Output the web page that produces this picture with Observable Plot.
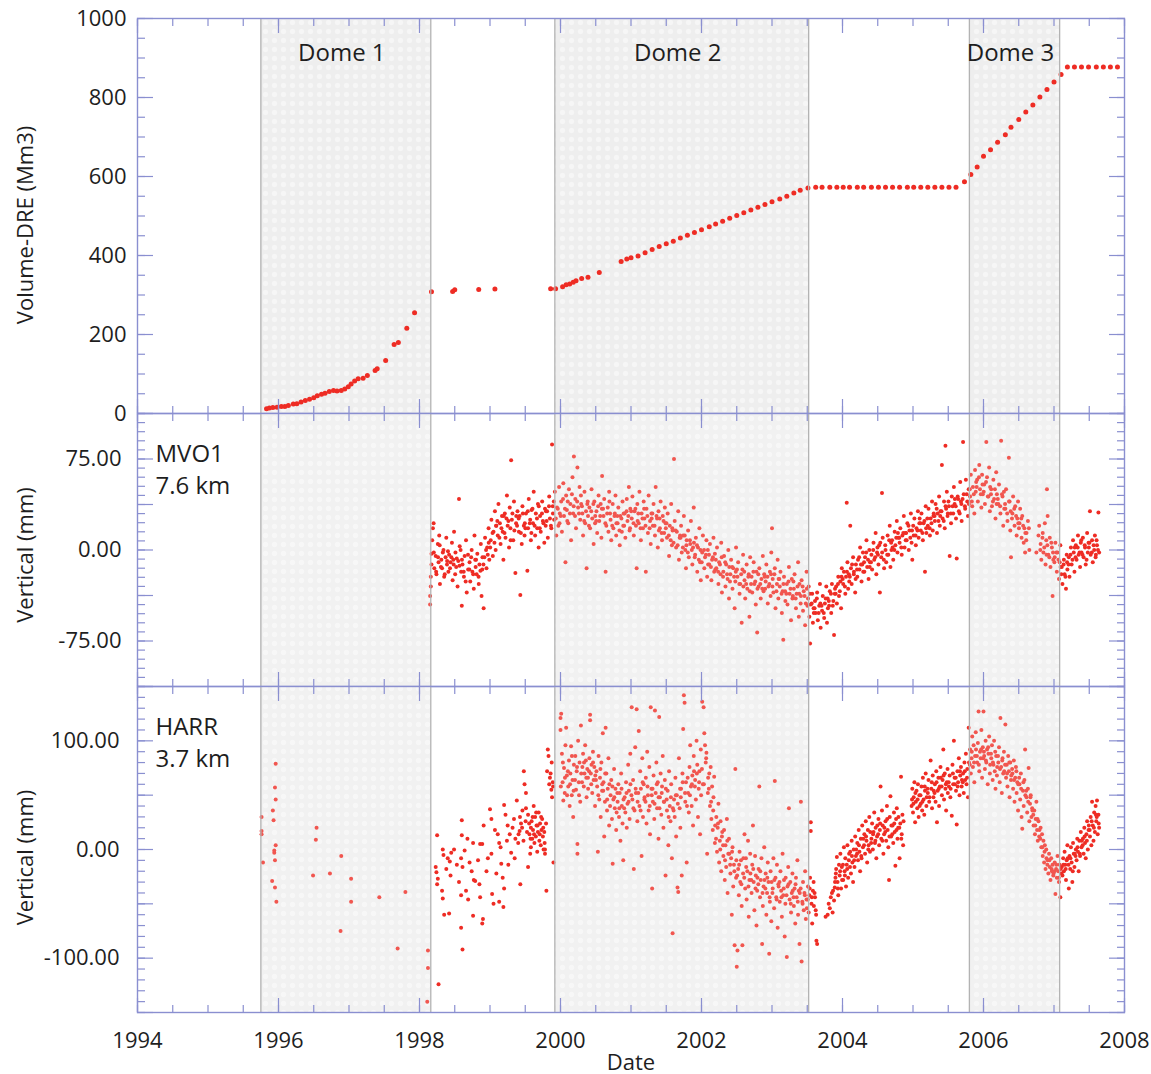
<!DOCTYPE html>
<html>
<head>
<meta charset="utf-8">
<script src="https://cdn.jsdelivr.net/npm/d3@7"></script>
<script src="https://cdn.jsdelivr.net/npm/@observablehq/plot@0.6"></script>
<style>
  body { margin: 0; background: #ffffff; }
  #chart { position: relative; width: 1151px; height: 1074px; }
</style>
</head>
<body>
<div id="chart"></div>
<script>
// ---------------- DATA ----------------
const domeNames = ["Dome 1", "Dome 2", "Dome 3"];
const domeStart = [1995.75, 1999.92, 2005.80];
const domeEnd   = [1998.16, 2003.52, 2007.08];

const yearTicks   = [1994, 1996, 1998, 2000, 2002, 2004, 2006, 2008];
const volumeTicks = [0, 200, 400, 600, 800, 1000];
const mvo1Ticks   = [-75, 0, 75];
const harrTicks   = [-100, 0, 100];

// cumulative extruded volume (dense rock equivalent, Mm3)
const volume = [
[1995.83,12],[1995.87,14],[1995.92,15],[1995.98,16],[1996.04,18],[1996.09,18],[1996.14,20],[1996.21,24],[1996.26,25],[1996.32,29],
[1996.38,33],[1996.44,36],[1996.50,40],[1996.55,45],[1996.61,49],[1996.66,51],[1996.72,56],[1996.78,58],[1996.83,57],[1996.89,58],
[1996.94,62],[1996.99,68],[1997.03,75],[1997.08,82],[1997.13,88],[1997.20,89],[1997.26,96],[1997.37,109],[1997.40,113],[1997.52,134],
[1997.64,175],[1997.70,180],[1997.82,216],[1997.93,255],[1998.17,308],[1998.47,309],[1998.50,313],[1998.84,314],[1999.07,315],
[1999.86,316],[1999.93,316],[2000.03,321],[2000.08,326],[2000.13,328],[2000.18,332],[2000.22,336],[2000.30,342],[2000.39,345],[2000.55,357],
[2000.86,385],[2000.94,391],[2001.00,394],[2001.10,399],[2001.20,407],[2001.30,415],[2001.40,423],[2001.50,430],[2001.60,436],[2001.70,444],
[2001.80,451],[2001.90,458],[2002.00,465],[2002.11,473],[2002.20,480],[2002.30,487],[2002.40,494],[2002.50,501],[2002.60,508],[2002.70,515],
[2002.80,522],[2002.90,529],[2003.00,536],[2003.11,543],[2003.21,550],[2003.31,558],[2003.40,565],[2003.51,571],
[2003.62,573],[2003.71,573],[2003.82,573],[2003.92,573],[2004.01,573],[2004.10,573],[2004.21,573],[2004.30,573],[2004.41,573],[2004.51,573],
[2004.61,573],[2004.71,573],[2004.81,573],[2004.92,573],[2005.01,573],[2005.11,573],[2005.21,573],[2005.31,573],[2005.41,573],[2005.51,573],[2005.61,573],
[2005.73,587],[2005.82,605],[2005.91,624],[2006.00,651],[2006.10,668],[2006.20,687],[2006.31,706],[2006.39,725],[2006.50,744],[2006.60,763],
[2006.70,781],[2006.80,801],[2006.90,820],[2007.00,839],[2007.10,858],
[2007.19,877],[2007.29,877],[2007.39,877],[2007.49,877],[2007.60,877],[2007.70,877],[2007.80,877],[2007.90,877]
];

// MVO1 GPS vertical displacement (mm)
const mvo1 = [
[1998.15,-45],[1998.15,-38],[1998.16,-30],[1998.16,-22],[1998.17,-12],[1998.17,-3],[1998.18,8],[1998.19,18],[1998.20,22],
[1998.21,-15],[1998.23,-5],[1998.24,-20],[1998.26,5],[1998.27,-10],[1998.28,12],[1998.29,-28],
[1998.31,-8],[1998.32,-15],[1998.34,0],[1998.35,-22],[1998.37,-6],[1998.38,10],[1998.39,-12],
[1998.41,-18],[1998.42,-4],[1998.44,-10],[1998.46,6],[1998.47,-25],[1998.48,-8],[1998.49,15],
[1998.51,-2],[1998.52,-14],[1998.54,-30],[1998.55,-9],[1998.56,42],[1998.57,3],[1998.59,-18],
[1998.60,-46],[1998.61,-12],[1998.63,-22],[1998.64,-5],[1998.66,8],[1998.67,-35],[1998.69,-16],
[1998.71,-10],[1998.72,-26],[1998.74,0],[1998.75,-18],[1998.77,-32],[1998.78,12],[1998.79,-8],
[1998.81,-20],[1998.82,-3],[1998.84,-28],[1998.85,-12],[1998.87,5],[1998.88,-38],[1998.89,-16],
[1998.91,-48],[1998.92,-6],[1998.93,10],[1998.95,-15],[1998.96,2],[1998.98,18],[1998.99,-8],
[1999.01,8],[1999.02,25],[1999.04,-5],[1999.05,15],[1999.07,32],[1999.08,0],[1999.09,20],
[1999.11,12],[1999.12,38],[1999.14,22],[1999.15,5],[1999.17,28],[1999.18,15],[1999.19,-8],
[1999.21,30],[1999.22,10],[1999.24,45],[1999.25,20],[1999.27,2],[1999.28,35],[1999.29,18],
[1999.30,74],[1999.31,25],[1999.33,8],[1999.34,40],[1999.36,-19],[1999.37,22],[1999.39,32],
[1999.41,15],[1999.42,28],[1999.43,-37],[1999.45,5],[1999.46,36],[1999.48,20],[1999.49,12],
[1999.51,30],[1999.53,-17],[1999.54,18],[1999.55,42],[1999.57,25],[1999.58,8],[1999.59,33],
[1999.61,22],[1999.62,48],[1999.64,12],[1999.65,30],[1999.67,18],[1999.68,38],[1999.69,2],
[1999.71,28],[1999.72,15],[1999.74,40],[1999.75,24],[1999.77,6],[1999.78,34],[1999.79,20],
[1999.81,32],[1999.82,10],[1999.84,44],[1999.85,26],[1999.87,18],[1999.88,87],[1999.89,36],
[1999.91,25],[1999.92,48],[1999.94,12],[1999.95,35],[1999.97,20],[1999.98,52],[1999.99,30],
[2000.01,40],[2000.02,15],[2000.04,55],[2000.05,28],[2000.07,-10],[2000.08,45],[2000.09,33],
[2000.11,22],[2000.12,50],[2000.14,38],[2000.15,8],[2000.17,60],[2000.18,30],[2000.19,77],
[2000.21,42],[2000.22,18],[2000.24,68],[2000.25,35],[2000.27,52],[2000.28,25],[2000.29,45],
[2000.31,30],[2000.32,12],[2000.34,48],[2000.35,22],[2000.37,-15],[2000.38,38],[2000.39,28],
[2000.41,35],[2000.42,18],[2000.44,50],[2000.45,26],[2000.47,5],[2000.48,40],[2000.49,22],
[2000.51,32],[2000.52,14],[2000.54,45],[2000.55,24],[2000.57,38],[2000.58,10],[2000.59,61],
[2000.61,28],[2000.62,42],[2000.64,-18],[2000.65,20],[2000.67,35],[2000.68,15],[2000.69,48],
[2000.71,25],[2000.72,8],[2000.74,38],[2000.75,18],[2000.77,30],[2000.78,45],[2000.79,12],
[2000.81,22],[2000.82,35],[2000.84,4],[2000.85,28],[2000.87,15],[2000.88,40],[2000.89,20],
[2000.91,30],[2000.92,10],[2000.94,42],[2000.95,24],[2000.97,52],[2000.98,16],[2000.99,34],
[2001.01,26],[2001.02,44],[2001.04,12],[2001.05,32],[2001.07,20],[2001.08,-15],[2001.09,38],
[2001.11,22],[2001.12,48],[2001.14,8],[2001.15,30],[2001.17,18],[2001.18,40],[2001.19,26],
[2001.21,-18],[2001.22,34],[2001.24,14],[2001.25,45],[2001.27,24],[2001.28,5],[2001.29,30],
[2001.31,20],[2001.32,38],[2001.34,12],[2001.35,52],[2001.37,26],[2001.38,2],[2001.39,32],
[2001.41,18],[2001.42,40],[2001.44,8],[2001.45,28],[2001.47,14],[2001.48,35],[2001.49,22],
[2001.51,10],[2001.52,30],[2001.54,-5],[2001.55,20],[2001.57,38],[2001.58,4],[2001.59,16],
[2001.61,75],[2001.62,24],[2001.64,2],[2001.65,15],[2001.67,32],[2001.68,-8],[2001.69,10],
[2001.71,20],[2001.72,-2],[2001.74,12],[2001.75,28],[2001.77,0],[2001.78,-15],[2001.79,8],
[2001.81,16],[2001.82,-6],[2001.84,5],[2001.85,24],[2001.87,-12],[2001.88,2],[2001.89,35],
[2001.91,-4],[2001.92,10],[2001.94,-18],[2001.95,2],[2001.97,18],[2001.98,-10],[2001.99,-25],
[2002.01,-2],[2002.02,12],[2002.04,-15],[2002.05,-6],[2002.07,8],[2002.08,-22],[2002.09,0],
[2002.11,-12],[2002.12,5],[2002.14,-25],[2002.15,-8],[2002.17,10],[2002.18,-18],[2002.19,-3],
[2002.21,-15],[2002.22,2],[2002.24,-28],[2002.25,-10],[2002.27,-20],[2002.28,6],[2002.29,-35],
[2002.31,-18],[2002.32,-5],[2002.34,-30],[2002.35,-12],[2002.37,-24],[2002.38,0],[2002.39,-40],
[2002.41,-20],[2002.42,-8],[2002.44,-32],[2002.45,-15],[2002.47,-48],[2002.48,-26],[2002.49,2],
[2002.51,-22],[2002.52,-10],[2002.54,-36],[2002.55,-28],[2002.57,-60],[2002.58,-16],[2002.59,-4],
[2002.61,-25],[2002.62,-40],[2002.64,-12],[2002.65,-32],[2002.67,-20],[2002.68,-55],[2002.69,-6],
[2002.71,-22],[2002.72,-35],[2002.74,-10],[2002.75,-28],[2002.77,-45],[2002.78,-18],[2002.79,-68],
[2002.81,-30],[2002.82,-15],[2002.84,-40],[2002.85,-24],[2002.87,-5],[2002.88,-34],[2002.89,-20],
[2002.91,-26],[2002.92,-12],[2002.94,-44],[2002.95,-30],[2002.97,-18],[2002.98,-38],[2002.99,-2],
[2003.00,18],[2003.01,-24],[2003.02,-35],[2003.04,-15],[2003.05,-48],[2003.07,-28],[2003.08,-8],[2003.09,-40],
[2003.11,-30],[2003.12,-18],[2003.14,-52],[2003.15,-34],[2003.16,-74],[2003.17,-22],[2003.19,-42],
[2003.21,-28],[2003.22,-45],[2003.24,-14],[2003.25,-36],[2003.27,-58],[2003.28,-24],[2003.29,-40],
[2003.31,-32],[2003.32,-20],[2003.34,-48],[2003.35,-36],[2003.37,-10],[2003.38,-55],[2003.39,-28],
[2003.41,-38],[2003.42,-25],[2003.44,-50],[2003.45,-34],[2003.47,-62],[2003.48,-44],[2003.49,-18],
[2003.51,-40],[2003.52,-30],[2003.53,-55],[2003.54,-77],[2003.55,-45],[2003.57,-36],[2003.58,-60],[2003.59,-48],
[2003.61,-42],[2003.62,-52],[2003.64,-35],[2003.65,-58],[2003.67,-46],[2003.68,-28],[2003.69,-64],
[2003.71,-50],[2003.72,-38],[2003.74,-56],[2003.75,-44],[2003.77,-30],[2003.78,-60],[2003.79,-40],
[2003.81,-46],[2003.82,-34],[2003.84,-52],[2003.85,-28],[2003.87,-42],[2003.88,-70],[2003.89,-36],
[2003.91,-30],[2003.92,-44],[2003.94,-22],[2003.95,-38],[2003.97,-26],[2003.98,-48],[2003.99,-15],
[2004.01,-28],[2004.02,-18],[2004.04,-36],[2004.05,-22],[2004.06,39],[2004.07,-10],[2004.08,-32],[2004.09,-20],
[2004.11,20],[2004.12,-15],[2004.13,-28],[2004.15,-6],[2004.16,-20],[2004.18,-35],[2004.19,-12],
[2004.21,-22],[2004.22,-8],[2004.24,-16],[2004.25,2],[2004.27,-26],[2004.28,-12],[2004.29,-2],
[2004.31,-18],[2004.32,-6],[2004.34,8],[2004.35,-14],[2004.37,-24],[2004.38,0],[2004.39,-10],
[2004.41,-4],[2004.42,-16],[2004.44,6],[2004.45,-8],[2004.47,14],[2004.48,-20],[2004.49,-2],
[2004.51,-12],[2004.52,4],[2004.53,-35],[2004.55,-6],[2004.56,47],[2004.57,10],[2004.59,-15],
[2004.61,0],[2004.62,-10],[2004.64,12],[2004.65,-4],[2004.67,20],[2004.68,-14],[2004.69,6],
[2004.71,2],[2004.72,-8],[2004.74,15],[2004.75,4],[2004.77,24],[2004.78,-2],[2004.79,10],
[2004.81,6],[2004.82,18],[2004.84,-4],[2004.85,12],[2004.87,28],[2004.88,2],[2004.89,14],
[2004.91,8],[2004.92,22],[2004.94,0],[2004.95,16],[2004.97,30],[2004.98,6],[2004.99,-8],
[2005.01,12],[2005.02,26],[2005.04,4],[2005.05,18],[2005.07,32],[2005.08,10],[2005.09,22],
[2005.11,16],[2005.12,30],[2005.14,8],[2005.15,22],[2005.17,-18],[2005.18,36],[2005.19,14],
[2005.21,20],[2005.22,34],[2005.24,12],[2005.25,26],[2005.27,40],[2005.28,16],[2005.29,28],
[2005.31,24],[2005.32,38],[2005.34,14],[2005.35,30],[2005.37,44],[2005.38,20],[2005.39,32],
[2005.41,70],[2005.42,26],[2005.44,40],[2005.45,18],[2005.46,86],[2005.47,34],[2005.48,48],[2005.49,28],
[2005.51,36],[2005.52,-5],[2005.54,22],[2005.55,44],[2005.57,30],[2005.58,52],[2005.59,38],
[2005.61,26],[2005.62,-7],[2005.64,42],[2005.65,32],[2005.67,56],[2005.68,40],[2005.69,24],
[2005.71,89],[2005.72,46],[2005.74,34],[2005.75,58],[2005.77,40],[2005.78,28],[2005.79,50],
[2005.81,44],[2005.82,62],[2005.84,36],[2005.85,52],[2005.87,30],[2005.88,66],[2005.89,48],
[2005.91,58],[2005.92,40],[2005.94,70],[2005.95,50],[2005.97,35],[2005.98,62],[2005.99,46],
[2006.01,54],[2006.02,38],[2006.04,89],[2006.05,60],[2006.07,44],[2006.08,68],[2006.09,32],
[2006.11,50],[2006.12,36],[2006.14,58],[2006.15,42],[2006.17,26],[2006.18,64],[2006.19,46],
[2006.21,38],[2006.22,54],[2006.24,30],[2006.25,90],[2006.27,44],[2006.28,20],[2006.29,48],
[2006.31,34],[2006.32,50],[2006.34,24],[2006.36,76],[2006.37,40],[2006.38,16],[2006.39,-6],
[2006.41,30],[2006.42,44],[2006.44,20],[2006.45,36],[2006.47,12],[2006.48,26],[2006.49,40],
[2006.51,22],[2006.52,34],[2006.54,10],[2006.55,28],[2006.57,6],[2006.58,18],[2006.59,-2],
[2006.61,14],[2006.63,24],[2006.65,0],[2006.75,-2],[2006.78,12],[2006.79,20],
[2006.81,5],[2006.82,-8],[2006.84,14],[2006.85,-2],[2006.87,22],[2006.88,-12],[2006.89,8],
[2006.90,50],[2006.91,28],[2006.92,-4],[2006.94,10],[2006.95,-14],[2006.97,2],[2006.98,-38],[2006.99,-8],
[2007.01,-6],[2007.02,6],[2007.04,-18],[2007.05,-2],[2007.07,-24],[2007.08,-10],[2007.09,4],
[2007.11,-14],[2007.12,-28],[2007.14,-8],[2007.15,-20],[2007.17,-32],[2007.18,-4],[2007.19,-16],
[2007.21,-6],[2007.22,-22],[2007.24,2],[2007.25,-12],[2007.27,8],[2007.28,-2],[2007.29,-18],
[2007.31,4],[2007.32,-8],[2007.34,12],[2007.35,-4],[2007.37,-14],[2007.38,6],[2007.39,-2],
[2007.41,10],[2007.42,-6],[2007.44,2],[2007.45,-12],[2007.47,14],[2007.48,-2],[2007.49,6],
[2007.51,32],[2007.52,-4],[2007.54,8],[2007.55,-10],[2007.57,0],[2007.58,12],[2007.59,-6],
[2007.61,4],[2007.63,31],[2007.64,-2]
];

// MVO1: further readings from the dense core of the cloud
const mvo1Core = [
[1998.203,-2],[1998.236,-18],[1998.263,-6],[1998.286,4],[1998.304,-14],[1998.331,-2],[1998.358,-20],[1998.392,-9],
[1998.404,-1],[1998.433,-15],[1998.452,-6],[1998.484,-12],[1998.506,-20],[1998.528,-7],[1998.567,-13],[1998.583,0],
[1998.602,-8],[1998.627,-18],[1998.655,-26],[1998.688,-4],[1998.707,-16],[1998.733,-6],[1998.762,-20],[1998.796,-14],
[1998.802,-8],[1998.838,-22],[1998.864,-17],[1998.893,-6],[1998.907,-12],[1998.944,0],[1998.968,-4],[1998.982,6],
[1999.003,2],[1999.036,14],[1999.063,6],[1999.086,20],[1999.104,24],[1999.133,10],[1999.162,18],[1999.196,28],
[1999.206,14],[1999.234,26],[1999.261,24],[1999.293,8],[1999.318,30],[1999.346,16],[1999.372,28],[1999.384,20],
[1999.407,26],[1999.438,14],[1999.466,30],[1999.494,22],[1999.502,18],[1999.536,32],[1999.564,22],[1999.587,14],
[1999.603,34],[1999.633,20],[1999.666,26],[1999.692,36],[1999.706,18],[1999.737,30],[1999.758,22],[1999.794,32],
[1999.803,24],[1999.837,36],[1999.864,20],[1999.893,30],[1999.905,40],[1999.933,26],[1999.962,34],[1999.986,22],
[2000.003,28],[2000.036,42],[2000.063,34],[2000.096,24],[2000.103,40],[2000.134,30],[2000.162,46],[2000.187,36],
[2000.206,28],[2000.236,40],[2000.262,30],[2000.293,38],[2000.304,36],[2000.336,24],[2000.362,32],[2000.386,40],
[2000.403,20],[2000.436,32],[2000.466,38],[2000.493,28],[2000.506,24],[2000.534,36],[2000.563,28],[2000.586,34],
[2000.604,34],[2000.636,22],[2000.662,30],[2000.694,40],[2000.703,30],[2000.734,20],[2000.766,28],[2000.793,22],
[2000.806,28],[2000.836,16],[2000.864,26],[2000.896,30],[2000.903,20],[2000.937,32],[2000.962,28],[2000.986,18],
[2001.003,32],[2001.036,22],[2001.062,34],[2001.094,24],[2001.104,30],[2001.136,18],[2001.163,26],[2001.186,34],
[2001.206,20],[2001.232,28],[2001.264,18],[2001.293,26],[2001.303,30],[2001.334,20],[2001.362,28],[2001.396,16],
[2001.406,26],[2001.434,14],[2001.462,24],[2001.494,18],[2001.503,22],[2001.536,12],[2001.563,8],[2001.586,18],
[2001.604,6],[2001.634,16],[2001.662,4],[2001.696,12],[2001.703,10],[2001.736,2],[2001.762,12],[2001.786,4],
[2001.806,-2],[2001.836,8],[2001.862,0],[2001.893,6],[2001.904,-6],[2001.936,4],[2001.962,-8],[2001.986,0],
[2002.003,-10],[2002.036,0],[2002.062,-4],[2002.094,-12],[2002.106,-4],[2002.134,-14],[2002.162,-6],[2002.196,-16],
[2002.203,-8],[2002.236,-18],[2002.262,-12],[2002.286,-6],[2002.306,-22],[2002.336,-10],[2002.362,-20],[2002.394,-14],
[2002.404,-26],[2002.436,-14],[2002.462,-22],[2002.486,-18],[2002.503,-16],[2002.536,-28],[2002.562,-20],[2002.594,-30],
[2002.606,-18],[2002.634,-28],[2002.664,-22],[2002.686,-34],[2002.703,-28],[2002.736,-18],[2002.762,-26],[2002.794,-32],
[2002.806,-20],[2002.834,-28],[2002.862,-32],[2002.896,-22],[2002.903,-32],[2002.936,-22],[2002.962,-28],[2002.986,-20],
[2003.006,-30],[2003.034,-20],[2003.063,-34],[2003.094,-24],[2003.104,-24],[2003.136,-36],[2003.162,-28],[2003.186,-34],
[2003.203,-36],[2003.234,-26],[2003.262,-32],[2003.296,-38],[2003.304,-26],[2003.336,-40],[2003.362,-30],[2003.386,-36],
[2003.406,-44],[2003.434,-30],[2003.462,-38],[2003.494,-32],[2003.503,-46],[2003.536,-36],[2003.563,-44],[2003.593,-52],
[2003.604,-48],[2003.636,-40],[2003.662,-52],[2003.686,-44],[2003.703,-46],[2003.734,-52],[2003.762,-40],[2003.793,-48],
[2003.806,-42],[2003.836,-36],[2003.862,-46],[2003.894,-32],[2003.903,-36],[2003.936,-28],[2003.962,-34],[2003.986,-22],
[2004.003,-24],[2004.034,-30],[2004.063,-18],[2004.096,-26],[2004.104,-22],[2004.136,-12],[2004.162,-18],[2004.186,-24],
[2004.206,-16],[2004.236,-6],[2004.262,-12],[2004.294,-18],[2004.306,-10],[2004.336,-2],[2004.362,-8],[2004.386,-14],
[2004.404,-10],[2004.436,0],[2004.463,-6],[2004.496,2],[2004.503,-4],[2004.536,6],[2004.562,-2],[2004.586,-8],
[2004.606,4],[2004.634,-4],[2004.662,8],[2004.694,0],[2004.703,8],[2004.736,0],[2004.762,10],[2004.786,14],
[2004.806,10],[2004.834,2],[2004.862,14],[2004.896,8],[2004.903,14],[2004.936,20],[2004.962,10],[2004.986,16],
[2005.003,20],[2005.036,12],[2005.063,16],[2005.094,26],[2005.106,22],[2005.134,14],[2005.162,24],[2005.186,18],
[2005.203,26],[2005.236,18],[2005.262,22],[2005.294,30],[2005.306,28],[2005.336,34],[2005.362,24],[2005.386,28],
[2005.404,32],[2005.436,24],[2005.462,36],[2005.494,30],[2005.503,40],[2005.536,30],[2005.562,36],[2005.594,42],
[2005.606,36],[2005.634,44],[2005.662,30],[2005.686,38],[2005.703,42],[2005.736,36],[2005.762,46],[2005.794,38],
[2005.806,50],[2005.834,40],[2005.862,46],[2005.896,56],[2005.903,52],[2005.936,60],[2005.962,46],[2005.986,54],
[2006.003,48],[2006.036,56],[2006.062,44],[2006.094,52],[2006.106,46],[2006.134,40],[2006.162,50],[2006.186,38],
[2006.203,42],[2006.236,36],[2006.262,46],[2006.294,34],[2006.306,38],[2006.336,30],[2006.362,40],[2006.386,32],
[2006.404,26],[2006.436,34],[2006.462,28],[2006.494,22],[2006.503,18],[2006.536,26],[2006.562,20],[2006.594,14],
[2006.606,8],[2006.644,18],[2006.806,0],[2006.836,10],[2006.862,2],[2006.894,-4],[2006.906,4],[2006.934,-6],
[2006.962,6],[2006.986,-2],[2007.006,-10],[2007.034,-2],[2007.063,-8],[2007.094,-14],[2007.104,-20],[2007.136,-12],
[2007.162,-22],[2007.186,-10],[2007.206,-12],[2007.234,-4],[2007.262,-8],[2007.294,2],[2007.306,-6],[2007.336,2],
[2007.362,-2],[2007.386,8],[2007.404,-4],[2007.436,4],[2007.462,-8],[2007.494,2],[2007.503,6],[2007.536,-2],
[2007.562,4],[2007.594,-4],[2007.604,8],[2007.624,0]
];

// HARR GPS vertical displacement (mm)
const harr = [
[1995.76,30],[1995.76,17],[1995.76,14],[1995.78,-12],[1995.96,79],[1995.95,57],[1995.96,46],[1995.92,36],[1995.93,27],[1995.96,4],
[1995.94,-1],[1995.94,-3],[1995.95,-10],[1995.91,-29],[1995.95,-35],[1995.97,-48],[1996.54,20],[1996.53,9],[1996.49,-24],[1996.73,-22],
[1996.89,-6],[1997.03,-27],[1997.03,-48],[1996.88,-75],[1997.43,-44],[1997.80,-39],[1997.69,-91],[1998.12,-93],[1998.12,-109],[1998.11,-140],
[1998.27,-124],
[1998.25,13],[1998.23,-16],[1998.24,-21],[1998.26,-27],[1998.25,-32],[1998.33,0],[1998.34,-5],[1998.32,-38],[1998.33,-45],[1998.35,-60],
[1998.42,-59],[1998.45,-3],[1998.43,-11],[1998.44,-24],[1998.49,0],[1998.38,-18],[1998.40,-8],[1998.60,27],[1998.60,13],[1998.59,-8],
[1998.61,-16],[1998.64,-1],[1998.59,-42],[1998.59,-72],[1998.61,-92],[1998.66,-38],[1998.69,-46],[1998.76,6],[1998.77,-28],[1998.79,-29],
[1998.76,-61],[1998.83,-10],[1998.86,5],[1998.89,5],[1998.85,-32],[1998.86,-44],[1998.90,-64],[1998.89,-68],[1998.91,22],[1998.71,-12],
[1998.74,-20],[1998.53,-14],[1998.56,-30],[1998.68,10],[1998.95,-20],[1998.97,-8],[1999.00,37],[1999.02,28],[1999.02,-4],[1999.11,14],
[1999.13,6],[1999.16,-13],[1999.20,-36],[1999.03,-41],[1999.05,-50],[1999.13,-48],[1999.19,-53],[1999.20,41],[1999.22,32],[1999.25,22],
[1999.28,14],[1999.30,-3],[1999.07,18],[1999.09,-22],[1999.15,2],[1999.18,-26],[1999.24,8],[1999.26,-14],[1999.32,20],[1999.34,28],
[1999.35,-8],[1999.38,45],[1999.42,17],[1999.43,-32],[1999.40,6],[1999.36,10],[1999.44,24],[1999.46,36],[1999.48,72],[1999.49,60],
[1999.51,52],[1999.51,38],[1999.54,32],[1999.56,14],[1999.58,2],[1999.57,-4],[1999.58,20],[1999.62,40],[1999.60,10],[1999.54,-16],
[1999.59,26],[1999.61,18],[1999.63,6],[1999.64,30],[1999.65,12],[1999.66,22],[1999.67,-2],[1999.68,16],[1999.69,34],[1999.70,8],
[1999.71,24],[1999.72,4],[1999.73,18],[1999.74,28],[1999.75,12],[1999.76,0],[1999.77,16],[1999.78,0],[1999.78,-4],[1999.80,-38],
[1999.82,92],[1999.83,86],[1999.81,72],[1999.84,60],[1999.85,66],[1999.87,55],[1999.88,48],[1999.89,62],[1999.90,-12],
[2000.00,121],[2000.00,110],[2000.01,125],[2000.02,88],[2000.03,62],[2000.04,45],[2000.05,75],[2000.06,52],[2000.07,96],[2000.08,112],[2000.09,68],
[2000.11,58],[2000.12,82],[2000.13,40],[2000.14,70],[2000.15,95],[2000.16,50],[2000.17,64],[2000.18,30],[2000.19,78],
[2000.21,86],[2000.22,55],[2000.23,72],[2000.24,5],[2000.24,-4],[2000.25,100],[2000.26,62],[2000.27,80],[2000.28,44],[2000.29,114],
[2000.31,76],[2000.32,88],[2000.33,58],[2000.34,70],[2000.35,96],[2000.36,82],[2000.37,48],[2000.38,74],[2000.39,66],
[2000.41,84],[2000.42,124],[2000.42,119],[2000.43,70],[2000.44,78],[2000.45,52],[2000.46,90],[2000.47,64],[2000.48,76],[2000.49,40],
[2000.51,72],[2000.52,58],[2000.53,-2],[2000.54,86],[2000.55,46],[2000.56,66],[2000.57,30],[2000.58,80],[2000.59,54],
[2000.60,107],[2000.61,62],[2000.62,12],[2000.63,44],[2000.64,112],[2000.65,70],[2000.66,36],[2000.67,56],[2000.68,84],[2000.69,22],
[2000.71,50],[2000.72,64],[2000.73,28],[2000.74,-13],[2000.75,46],[2000.76,74],[2000.77,38],[2000.78,56],[2000.79,18],
[2000.81,44],[2000.82,60],[2000.83,30],[2000.84,52],[2000.85,8],[2000.86,70],[2000.87,40],[2000.88,24],[2000.89,-10],
[2000.91,48],[2000.92,34],[2000.93,62],[2000.94,20],[2000.95,42],[2000.96,78],[2000.97,54],[2000.98,28],[2000.99,88],
[2001.01,131],[2001.02,46],[2001.03,64],[2001.04,-18],[2001.05,36],[2001.06,94],[2001.07,52],[2001.08,129],[2001.09,26],
[2001.11,109],[2001.12,40],[2001.13,72],[2001.14,56],[2001.15,-6],[2001.16,84],[2001.17,30],[2001.18,60],[2001.19,46],
[2001.21,66],[2001.22,24],[2001.23,90],[2001.24,50],[2001.25,36],[2001.26,76],[2001.27,14],[2001.28,131],[2001.29,56],
[2001.30,-36],[2001.31,44],[2001.32,68],[2001.33,28],[2001.34,128],[2001.35,52],[2001.36,80],[2001.37,38],[2001.38,62],[2001.39,10],
[2001.40,122],[2001.41,48],[2001.42,70],[2001.43,32],[2001.44,58],[2001.45,86],[2001.46,20],[2001.47,44],[2001.48,64],[2001.49,-24],
[2001.51,36],[2001.52,54],[2001.53,4],[2001.54,72],[2001.55,40],[2001.56,26],[2001.57,60],[2001.58,-8],[2001.59,-77],
[2001.61,46],[2001.62,30],[2001.63,66],[2001.64,12],[2001.65,50],[2001.66,-35],[2001.67,-39],[2001.68,84],[2001.69,38],
[2001.70,20],[2001.71,56],[2001.72,-24],[2001.73,70],[2001.74,111],[2001.75,142],[2001.76,135],[2001.77,44],[2001.78,62],[2001.79,-12],
[2001.81,52],[2001.82,34],[2001.83,76],[2001.84,96],[2001.85,58],[2001.86,40],[2001.87,68],[2001.88,22],[2001.89,86],
[2001.91,64],[2001.92,46],[2001.93,100],[2001.94,78],[2001.95,30],[2001.96,56],[2001.97,72],[2001.98,14],[2001.99,92],
[2002.01,136],[2002.02,60],[2002.03,131],[2002.04,107],[2002.05,96],[2002.06,80],[2002.07,89],[2002.08,-4],[2002.09,52],
[2002.11,70],[2002.12,40],[2002.13,76],[2002.14,28],[2002.15,58],[2002.16,18],[2002.17,48],[2002.18,67],[2002.19,6],
[2002.21,30],[2002.22,-2],[2002.23,20],[2002.24,42],[2002.25,-12],[2002.26,8],[2002.27,26],[2002.28,-20],[2002.29,12],
[2002.31,-6],[2002.32,18],[2002.33,-28],[2002.34,4],[2002.35,-16],[2002.36,28],[2002.37,-40],[2002.38,-4],[2002.39,10],
[2002.41,-22],[2002.42,-8],[2002.43,-60],[2002.44,2],[2002.45,-34],[2002.46,-14],[2002.47,-88],[2002.48,74],[2002.49,-26],
[2002.50,-108],[2002.51,-93],[2002.52,-18],[2002.53,-42],[2002.54,-2],[2002.55,-30],[2002.56,-10],[2002.57,-52],[2002.58,-88],[2002.59,-22],
[2002.61,14],[2002.62,-36],[2002.63,-8],[2002.64,-46],[2002.65,-20],[2002.66,8],[2002.67,-62],[2002.68,-28],[2002.69,-4],
[2002.71,-40],[2002.72,-14],[2002.73,22],[2002.74,-30],[2002.75,-56],[2002.76,-6],[2002.77,-24],[2002.78,-70],[2002.79,-38],
[2002.81,-18],[2002.82,58],[2002.83,-44],[2002.84,-28],[2002.85,-8],[2002.86,-87],[2002.87,-52],[2002.88,-34],[2002.89,2],
[2002.91,-22],[2002.92,-60],[2002.93,-40],[2002.94,-12],[2002.95,-30],[2002.96,-96],[2002.97,-48],[2002.98,-20],[2002.99,-66],
[2003.01,-36],[2003.02,-8],[2003.03,-54],[2003.04,63],[2003.05,-26],[2003.06,-44],[2003.07,-14],[2003.08,-72],[2003.09,-32],
[2003.11,-48],[2003.12,-20],[2003.13,-38],[2003.14,-62],[2003.15,-4],[2003.16,-42],[2003.17,-28],[2003.18,-80],[2003.19,-50],
[2003.21,-99],[2003.22,-34],[2003.23,-16],[2003.24,38],[2003.25,-46],[2003.26,-30],[2003.27,-58],[2003.28,-40],[2003.29,-22],
[2003.31,-52],[2003.32,-36],[2003.33,-68],[2003.34,-26],[2003.35,-44],[2003.36,-10],[2003.37,-60],[2003.38,-38],[2003.39,-87],
[2003.41,44],[2003.42,-103],[2003.43,-48],[2003.44,-30],[2003.45,-56],[2003.46,-40],[2003.47,-20],[2003.48,-64],[2003.49,-46],
[2003.51,-34],[2003.52,-58],[2003.53,-42],[2003.54,-26],[2003.55,25],[2003.55,17],[2003.56,-50],[2003.57,-68],[2003.58,-38],[2003.59,-30],
[2003.61,-44],[2003.62,-56],[2003.63,-84],[2003.64,-87],
[2003.76,-62],[2003.79,-60],[2003.82,-54],[2003.85,-40],[2003.88,-47],[2003.89,-35],[2003.90,-26],[2003.86,-58],[2003.91,-18],[2003.92,-7],
[2003.93,-30],[2003.94,-42],[2003.95,-14],[2003.96,-24],[2003.97,-4],[2003.98,-36],[2003.99,-16],[2004.01,-28],[2004.02,2],
[2004.03,-20],[2004.04,-8],[2004.05,-34],[2004.06,-14],[2004.07,4],[2004.08,-26],[2004.09,-10],
[2004.11,-2],[2004.12,-22],[2004.13,8],[2004.14,-12],[2004.15,-30],[2004.16,0],[2004.17,-16],[2004.18,12],[2004.19,-6],
[2004.21,6],[2004.22,-10],[2004.23,18],[2004.24,-2],[2004.25,-20],[2004.26,10],[2004.27,-8],[2004.28,22],[2004.29,2],
[2004.31,14],[2004.32,-4],[2004.33,26],[2004.34,8],[2004.35,-12],[2004.36,18],[2004.37,4],[2004.38,30],[2004.39,-2],
[2004.41,10],[2004.42,24],[2004.43,0],[2004.44,16],[2004.45,34],[2004.46,6],[2004.47,20],[2004.48,-8],[2004.49,12],
[2004.51,28],[2004.52,4],[2004.53,18],[2004.54,58],[2004.55,10],[2004.56,36],[2004.57,22],[2004.58,-4],[2004.59,14],
[2004.61,26],[2004.62,8],[2004.63,40],[2004.64,18],[2004.65,2],[2004.66,-28],[2004.67,30],[2004.68,49],[2004.69,12],
[2004.71,22],[2004.72,6],[2004.73,34],[2004.74,16],[2004.75,-15],[2004.76,28],[2004.77,38],[2004.78,10],[2004.79,20],
[2004.81,-8],[2004.82,24],[2004.83,67],[2004.84,14],[2004.85,32],[2004.86,4],
[2004.98,40],[2004.99,56],[2005.00,34],[2005.01,48],[2005.02,62],[2005.03,25],[2005.04,44],[2005.05,54],[2005.06,38],[2005.07,60],[2005.08,30],[2005.09,50],
[2005.11,42],[2005.12,58],[2005.13,36],[2005.14,66],[2005.15,46],[2005.16,32],[2005.17,54],[2005.18,70],[2005.19,40],
[2005.21,52],[2005.22,64],[2005.23,44],[2005.25,82],[2005.26,56],[2005.27,38],[2005.28,68],[2005.29,48],
[2005.31,60],[2005.32,44],[2005.33,72],[2005.34,25],[2005.35,54],[2005.36,66],[2005.37,40],[2005.38,58],[2005.39,76],
[2005.41,50],[2005.42,64],[2005.43,92],[2005.44,46],[2005.45,70],[2005.46,56],[2005.47,36],[2005.48,62],[2005.49,74],
[2005.51,58],[2005.52,68],[2005.53,48],[2005.55,31],[2005.56,78],[2005.57,60],[2005.58,100],[2005.59,66],
[2005.61,54],[2005.62,23],[2005.63,72],[2005.64,62],[2005.65,84],[2005.66,50],[2005.67,68],[2005.68,76],[2005.69,58],
[2005.71,70],[2005.72,52],[2005.73,80],[2005.74,64],[2005.75,88],[2005.76,60],[2005.77,74],[2005.78,48],[2005.79,112],
[2005.81,92],[2005.82,70],[2005.83,84],[2005.84,104],[2005.85,76],[2005.86,96],[2005.87,62],[2005.88,86],[2005.89,108],
[2005.91,80],[2005.92,98],[2005.93,127],[2005.94,72],[2005.95,90],[2005.96,84],[2005.97,110],[2005.98,66],[2005.99,94],
[2006.00,127],[2006.01,86],[2006.02,74],[2006.03,100],[2006.04,80],[2006.05,92],[2006.06,60],[2006.07,88],[2006.08,104],[2006.09,70],
[2006.11,84],[2006.12,96],[2006.13,64],[2006.14,78],[2006.15,100],[2006.16,72],[2006.17,56],[2006.18,86],[2006.19,68],
[2006.21,80],[2006.22,94],[2006.23,62],[2006.24,121],[2006.25,76],[2006.26,52],[2006.27,84],[2006.28,70],[2006.29,90],
[2006.31,115],[2006.32,66],[2006.33,78],[2006.34,58],[2006.35,86],[2006.36,72],[2006.37,48],[2006.38,80],[2006.39,64],
[2006.41,70],[2006.42,56],[2006.43,82],[2006.44,44],[2006.45,66],[2006.46,76],[2006.47,52],[2006.48,62],[2006.49,36],
[2006.51,60],[2006.52,46],[2006.53,70],[2006.54,30],[2006.55,19],[2006.56,54],[2006.57,40],[2006.58,64],[2006.59,92],
[2006.61,48],[2006.62,34],[2006.63,56],[2006.64,75],[2006.65,26],[2006.66,42],[2006.67,50],[2006.68,30],[2006.69,38],
[2006.71,22],[2006.72,36],[2006.73,14],[2006.74,28],[2006.75,44],[2006.76,18],[2006.77,8],[2006.78,26],[2006.79,12],
[2006.81,20],[2006.82,2],[2006.83,14],[2006.84,-6],[2006.85,8],[2006.86,-12],[2006.87,4],[2006.88,-18],[2006.89,0],
[2006.91,-10],[2006.92,-22],[2006.93,-4],[2006.94,-16],[2006.95,-28],[2006.96,-8],[2006.97,-20],[2006.98,-14],[2006.99,-24],
[2007.01,-12],[2007.02,-41],[2007.03,-18],[2007.04,-26],[2007.05,-6],[2007.06,-20],[2007.07,-30],[2007.08,-14],[2007.09,-44],
[2007.11,-16],[2007.12,-24],[2007.13,-8],[2007.14,-20],[2007.15,-2],[2007.16,-14],[2007.17,-28],[2007.18,-10],[2007.19,4],
[2007.21,-36],[2007.22,-6],[2007.23,-18],[2007.24,2],[2007.25,-12],[2007.26,-30],[2007.27,6],[2007.28,-4],[2007.29,-16],
[2007.31,0],[2007.32,-10],[2007.33,10],[2007.34,-2],[2007.35,-20],[2007.36,8],[2007.37,-6],[2007.38,16],[2007.39,2],
[2007.41,10],[2007.42,-4],[2007.43,20],[2007.44,6],[2007.45,-8],[2007.46,14],[2007.47,26],[2007.48,0],[2007.49,18],
[2007.51,12],[2007.52,30],[2007.53,4],[2007.54,44],[2007.55,22],[2007.56,8],[2007.57,34],[2007.58,16],[2007.59,40],
[2007.60,26],[2007.61,45],[2007.62,14],[2007.63,32],[2007.64,20]
];

// HARR: further readings from the dense core of the cloud
const harrCore = [
[1999.405,14],[1999.425,30],[1999.455,20],[1999.475,8],[1999.505,26],[1999.525,16],[1999.555,24],[1999.575,10],[1999.605,30],[1999.625,14],
[1999.655,34],[1999.675,22],[1999.705,14],[1999.725,30],[1999.755,20],[1999.775,6],[1999.795,24],[1999.860,70],[1999.875,80],[1999.895,58],
[2000.005,58],[2000.034,80],[2000.063,66],[2000.094,50],[2000.105,72],[2000.136,60],[2000.162,86],[2000.186,54],
[2000.206,64],[2000.234,76],[2000.263,50],[2000.294,70],[2000.305,62],[2000.334,80],[2000.366,66],[2000.392,56],
[2000.405,72],[2000.436,60],[2000.462,80],[2000.494,68],[2000.503,64],[2000.536,50],[2000.566,74],[2000.592,60],
[2000.606,54],[2000.634,70],[2000.662,46],[2000.694,60],[2000.703,40],[2000.736,58],[2000.764,48],[2000.796,34],
[2000.806,52],[2000.834,38],[2000.866,56],[2000.894,46],[2000.903,38],[2000.936,52],[2000.966,44],[2000.992,60],
[2001.006,50],[2001.034,38],[2001.066,56],[2001.094,44],[2001.104,52],[2001.136,36],[2001.166,62],[2001.192,48],
[2001.206,44],[2001.234,58],[2001.266,40],[2001.294,50],[2001.306,56],[2001.334,42],[2001.366,60],[2001.392,48],
[2001.404,38],[2001.436,52],[2001.466,44],[2001.494,56],[2001.506,46],[2001.534,30],[2001.566,48],[2001.594,38],
[2001.604,36],[2001.636,50],[2001.664,42],[2001.696,56],[2001.706,48],[2001.734,62],[2001.766,52],[2001.794,40],
[2001.804,66],[2001.836,50],[2001.864,60],[2001.894,72],[2001.906,58],[2001.934,70],[2001.966,62],[2001.994,50],
[2002.006,74],[2002.034,60],[2002.066,84],[2002.094,66],[2002.104,56],[2002.136,44],[2002.166,36],[2002.194,22],
[2002.206,10],[2002.234,24],[2002.266,0],[2002.294,16],[2002.306,4],[2002.334,-10],[2002.366,8],[2002.394,-4],
[2002.406,-14],[2002.434,-2],[2002.466,-20],[2002.494,-10],[2002.506,-24],[2002.534,-14],[2002.566,-32],[2002.594,-8],
[2002.606,-26],[2002.634,-16],[2002.666,-34],[2002.694,-22],[2002.706,-28],[2002.734,-18],[2002.766,-36],[2002.794,-26],
[2002.806,-32],[2002.834,-20],[2002.866,-40],[2002.894,-28],[2002.906,-36],[2002.934,-26],[2002.966,-44],[2002.994,-30],
[2003.006,-40],[2003.034,-28],[2003.066,-46],[2003.094,-34],[2003.106,-30],[2003.134,-44],[2003.166,-36],[2003.194,-26],
[2003.206,-42],[2003.234,-32],[2003.266,-50],[2003.294,-38],[2003.306,-44],[2003.334,-32],[2003.366,-48],[2003.394,-40],
[2003.406,-36],[2003.434,-50],[2003.466,-42],[2003.494,-54],[2003.506,-46],[2003.534,-36],[2003.566,-44],[2003.594,-52],
[2003.604,-40],[2003.626,-60],
[2003.804,-50],[2003.834,-44],[2003.866,-38],[2003.894,-30],[2003.906,-22],[2003.934,-36],[2003.966,-20],[2003.994,-28],
[2004.006,-14],[2004.034,-24],[2004.066,-18],[2004.094,-4],[2004.106,-16],[2004.134,-6],[2004.166,-10],[2004.194,0],
[2004.206,-4],[2004.234,4],[2004.266,-6],[2004.294,10],[2004.306,4],[2004.334,12],[2004.366,0],[2004.394,16],
[2004.406,6],[2004.434,14],[2004.466,8],[2004.494,22],[2004.506,14],[2004.534,24],[2004.566,8],[2004.594,20],
[2004.606,16],[2004.634,28],[2004.666,12],[2004.694,22],[2004.706,14],[2004.734,24],[2004.766,18],[2004.794,30],
[2004.806,20],[2004.834,10],[2004.866,26],
[2004.986,46],[2005.006,42],[2005.034,52],[2005.066,46],[2005.094,40],[2005.106,50],[2005.134,44],[2005.166,58],[2005.194,48],
[2005.206,56],[2005.234,48],[2005.266,62],[2005.294,54],[2005.306,52],[2005.334,62],[2005.366,56],[2005.394,66],
[2005.406,58],[2005.434,68],[2005.466,60],[2005.494,52],[2005.506,62],[2005.534,56],[2005.566,70],[2005.594,60],
[2005.606,66],[2005.634,58],[2005.666,72],[2005.694,64],[2005.706,62],[2005.734,72],[2005.766,66],[2005.794,80],
[2005.806,78],[2005.834,90],[2005.866,80],[2005.894,92],[2005.906,86],[2005.934,78],[2005.966,92],[2005.994,84],
[2006.006,90],[2006.034,82],[2006.066,94],[2006.094,78],[2006.106,88],[2006.134,80],[2006.166,90],[2006.194,76],
[2006.206,86],[2006.234,74],[2006.266,82],[2006.294,72],[2006.306,78],[2006.334,70],[2006.366,80],[2006.394,68],
[2006.406,74],[2006.434,64],[2006.466,72],[2006.494,60],[2006.506,66],[2006.534,56],[2006.566,62],[2006.594,50],
[2006.606,54],[2006.634,44],[2006.666,48],[2006.694,36],[2006.706,32],[2006.734,22],[2006.766,28],[2006.794,18],
[2006.806,10],[2006.834,2],[2006.866,-2],[2006.894,-8],[2006.906,-14],[2006.934,-10],[2006.966,-18],[2006.994,-22],
[2007.006,-20],[2007.034,-14],[2007.066,-26],[2007.094,-18],[2007.106,-22],[2007.134,-14],[2007.166,-18],[2007.194,-8],
[2007.206,-14],[2007.234,-8],[2007.266,-20],[2007.294,-4],[2007.306,-6],[2007.334,2],[2007.366,-4],[2007.394,8],
[2007.406,4],[2007.434,12],[2007.466,8],[2007.494,22],[2007.506,18],[2007.534,26],[2007.566,20],[2007.594,32],
[2007.606,30],[2007.634,24]
];

// ---------------- STYLE / LAYOUT ----------------
const FONT = "'Open Sans', 'Noto Sans', sans-serif";
const AXIS = "#8a8fd0";
const RED = "#ee2c24";
const TEXT = "#1e1e1e";
const W = 1151, H = 1074, ML = 137, MR = 27;
const X_DOMAIN = [1994, 2008];

const domes = domeNames.map((label, i) => ({label, start: domeStart[i], end: domeEnd[i]}));
const domeEdges = domes.flatMap(d => [d.start, d.end]);
const xMinor = d3.range(1994, 2008.001, 0.5);

const container = document.getElementById("chart");

function addPattern(svg, id) {
  const ns = "http://www.w3.org/2000/svg";
  const defs = document.createElementNS(ns, "defs");
  const pat = document.createElementNS(ns, "pattern");
  pat.setAttribute("id", id);
  pat.setAttribute("width", "9");
  pat.setAttribute("height", "9");
  pat.setAttribute("patternUnits", "userSpaceOnUse");
  const r = document.createElementNS(ns, "rect");
  r.setAttribute("width", "9"); r.setAttribute("height", "9"); r.setAttribute("fill", "#eeeeee");
  const c = document.createElementNS(ns, "circle");
  c.setAttribute("cx", "4.5"); c.setAttribute("cy", "4.5"); c.setAttribute("r", "2.7"); c.setAttribute("fill", "#f6f6f6");
  pat.appendChild(r); pat.appendChild(c); defs.appendChild(pat);
  svg.insertBefore(defs, svg.firstChild);
}

function makePanel(cfg) {
  const patId = "dots-" + cfg.id;
  const tickOpts = {tickFormat: () => "", stroke: AXIS, strokeWidth: 1.2, label: null};
  const marks = [
    Plot.rect(domes, {x1: "start", x2: "end", fill: `url(#${patId})`})
  ];
  for (const series of cfg.data) {
    marks.push(Plot.dot(series, {x: d => d[0], y: d => d[1], r: cfg.r, fill: RED, stroke: "none"}));
  }
  if (cfg.overlay) marks.push(Plot.rect(domes, {x1: "start", x2: "end", fill: "white", fillOpacity: 0.2}));
  marks.push(
    Plot.ruleX(domeEdges, {stroke: "#b3b3b3", strokeWidth: 1.3}),
    Plot.frame({stroke: AXIS, strokeWidth: 1.4}),
    Plot.axisX({anchor: "bottom", ticks: xMinor, tickSize: -7, ...tickOpts}),
    Plot.axisX({anchor: "bottom", ticks: yearTicks, tickSize: -14, ...tickOpts}),
    Plot.axisX({anchor: "top", ticks: xMinor, tickSize: -7, ...tickOpts}),
    Plot.axisX({anchor: "top", ticks: yearTicks, tickSize: -14, ...tickOpts}),
    Plot.axisY({anchor: "left", ticks: cfg.yMinor, tickSize: -8, ...tickOpts}),
    Plot.axisY({anchor: "left", ticks: cfg.yMajor, tickSize: -16, ...tickOpts}),
    Plot.axisY({anchor: "right", ticks: cfg.yMinor, tickSize: -8, ...tickOpts}),
    Plot.axisY({anchor: "right", ticks: cfg.yMajor, tickSize: -16, ...tickOpts}),
    Plot.axisY({anchor: "left", ticks: cfg.yLabels, tickSize: 0, tickPadding: cfg.pad,
      tickFormat: cfg.fmt, fontSize: 22, fill: TEXT, label: null}),
    Plot.text([cfg.title], {frameAnchor: "left", dx: -112, dy: cfg.titleDy, rotate: -90,
      textAnchor: "middle", lineAnchor: "middle", fontSize: 22, fill: TEXT})
  );
  if (cfg.domeLabels) {
    marks.push(Plot.text(domes, {x: d => (d.start + d.end) / 2, frameAnchor: "top", dy: 35, dx: -4,
      lineAnchor: "middle", text: "label", fontSize: 24, fill: TEXT}));
  }
  if (cfg.station) {
    marks.push(Plot.text([cfg.station], {frameAnchor: "top-left", dx: 18, dy: 25, textAnchor: "start",
      lineAnchor: "top", lineHeight: 1.36, fontSize: 24, fill: TEXT}));
  }
  if (cfg.xLabels) {
    marks.push(
      Plot.axisX({anchor: "bottom", ticks: yearTicks, tickSize: 0, tickPadding: 20,
        tickFormat: d => String(d), fontSize: 22, fill: TEXT, label: null}),
      Plot.text(["Date"], {frameAnchor: "bottom", dy: 50, lineAnchor: "middle", fontSize: 22, fill: TEXT})
    );
  }
  const svg = Plot.plot({
    width: W, height: H,
    marginLeft: ML, marginRight: MR, marginTop: cfg.top, marginBottom: H - cfg.bottom,
    x: {domain: X_DOMAIN},
    y: {domain: cfg.yDomain},
    style: {background: "transparent", overflow: "visible", fontFamily: FONT, fontSize: "22px",
      position: "absolute", left: "0px", top: "0px", color: TEXT},
    marks
  });
  addPattern(svg, patId);
  container.appendChild(svg);
}

makePanel({
  id: "vol", top: 18, bottom: 413, yDomain: [0, 1000],
  yMinor: d3.range(0, 1000.1, 50), yMajor: volumeTicks, yLabels: volumeTicks,
  fmt: d => String(d), pad: 11, data: [volume], r: 2.5, overlay: false,
  title: "Volume-DRE (Mm3)", titleDy: 9, domeLabels: true
});
makePanel({
  id: "mvo", top: 413, bottom: 686, yDomain: [-112.5, 112.5],
  yMinor: d3.range(-112.5, 112.6, 7.5), yMajor: d3.range(-112.5, 112.6, 37.5), yLabels: mvo1Ticks,
  fmt: d => d.toFixed(2), pad: 16, data: [mvo1, mvo1Core], r: 2.0, overlay: true,
  title: "Vertical (mm)", titleDy: 5, station: "MVO1\n7.6 km"
});
makePanel({
  id: "harr", top: 686, bottom: 1012, yDomain: [-150, 150],
  yMinor: d3.range(-150, 150.1, 10), yMajor: d3.range(-150, 150.1, 50), yLabels: harrTicks,
  fmt: d => d.toFixed(2), pad: 18, data: [harr, harrCore], r: 2.0, overlay: true,
  title: "Vertical (mm)", titleDy: 8, station: "HARR\n3.7 km", xLabels: true
});
</script>
</body>
</html>
